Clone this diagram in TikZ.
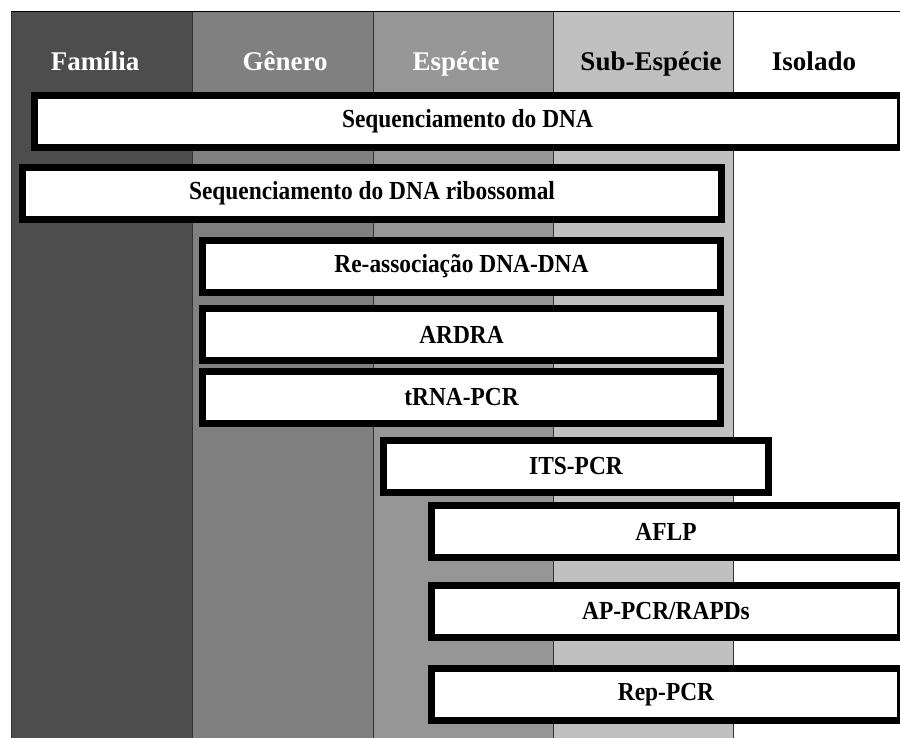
\documentclass[tikz,border=0pt]{standalone}
\usepackage{fontspec}
\setmainfont{Liberation Serif}
\newfontfamily\caixafonte{Liberation Serif}[FakeStretch=0.9]
\usepackage{xcolor}
\usetikzlibrary{positioning}
\definecolor{corfamilia}{HTML}{4D4D4D}
\definecolor{corgenero}{HTML}{808080}
\definecolor{corespecie}{HTML}{969696}
\definecolor{corsub}{HTML}{C0C0C0}
\tikzset{
  tecnica/.style={draw=black, fill=white, line width=7pt, rectangle, inner sep=0pt, minimum height=52pt, font=\caixafonte\fontsize{26}{30}\selectfont\bfseries},
  cabecalho/.style={anchor=base, inner sep=0pt, font=\fontsize{27}{30}\selectfont\bfseries}
}
\begin{document}
\begin{tikzpicture}[x=1pt,y=-1pt]
\useasboundingbox (0,0) rectangle (900,738);
% colunas
\fill[corfamilia] (11,12) rectangle (192,738);
\fill[corgenero] (192,12) rectangle (373,738);
\fill[corespecie] (373,12) rectangle (553,738);
\fill[corsub] (553,12) rectangle (733,738);
\fill[white] (733,12) rectangle (900,738);
\draw[line width=1pt] (11,12) -- (900,12);
\foreach \x in {11,192,373,553,733}
  \draw[line width=0.8pt, black!80] (\x,12) -- (\x,738);
% cabecalho
\node[cabecalho, text=white] (familia) at (95,71) {Família};
\node[cabecalho, text=white] (genero) at (285,71) {Gênero};
\node[cabecalho, text=white] (especie) at (456,71) {Espécie};
\node[cabecalho] (subespecie) at (651,71) {Sub-Espécie};
\node[cabecalho] (isolado) at (814,71) {Isolado};
% tecnicas
\node[tecnica, minimum width=866pt] (seqdna) at (467.5,121.5) {Sequenciamento do DNA};
\node[tecnica, minimum width=699pt] (seqrdna) at (372,193.5) {Sequenciamento do DNA ribossomal};
\node[tecnica, minimum width=518pt] (reassoc) at (461.5,266.5) {Re-associação DNA-DNA};
\node[tecnica, minimum width=518pt] (ardra) at (461.5,334.5) {ARDRA};
\node[tecnica, minimum width=518pt] (trna) at (461.5,397.5) {tRNA-PCR};
\node[tecnica, minimum width=385pt] (its) at (576,466.5) {ITS-PCR};
\node[tecnica, minimum width=469pt] (aflp) at (666,531.5) {AFLP};
\node[tecnica, minimum width=469pt] (appcr) at (666,611.5) {AP-PCR/RAPDs};
\node[tecnica, minimum width=469pt] (reppcr) at (666,694.5) {Rep-PCR};
\end{tikzpicture}
\end{document}
